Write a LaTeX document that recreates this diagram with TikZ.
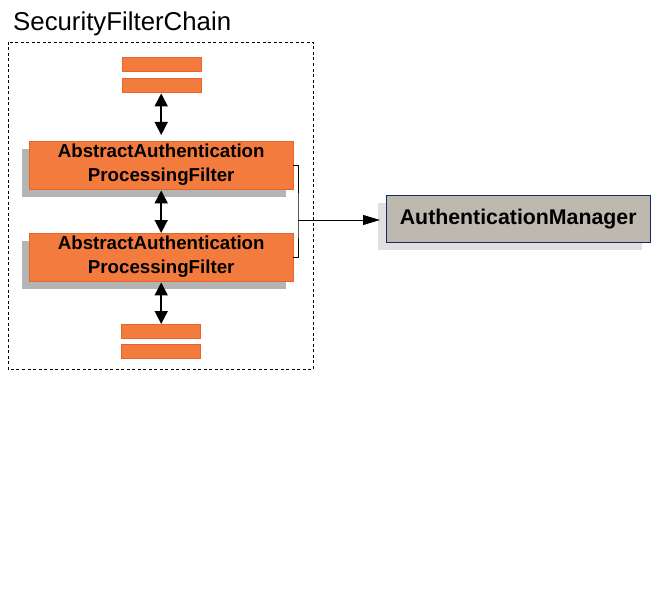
\documentclass[tikz,border=0pt]{standalone}
\usepackage{fontspec}
\setmainfont{Liberation Sans}
\usetikzlibrary{arrows.meta,shadows}

\definecolor{filterorange}{HTML}{F47B3E}
\definecolor{filterline}{HTML}{E5652B}
\definecolor{shadowgray}{HTML}{B4B4B4}
\definecolor{managerfill}{HTML}{BDB9AF}
\definecolor{managerline}{HTML}{1A2470}
\definecolor{managershadow}{HTML}{E0E0E0}

\tikzset{
	filterbar/.style={draw=filterline, fill=filterorange, minimum width=79pt, minimum height=14pt, inner sep=0pt, anchor=north west},
	filterbox/.style={draw=filterline, fill=filterorange, minimum width=264pt, minimum height=48pt, inner sep=0pt, anchor=north west, align=center,
		font=\fontsize{18.7}{24}\selectfont\bfseries,
		general shadow={shadow xshift=-7pt, shadow yshift=-8pt, fill=shadowgray, draw=none, opacity=1}},
	managerbox/.style={draw=managerline, fill=managerfill, minimum width=264pt, minimum height=47pt, inner sep=0pt, anchor=north west,
		font=\fontsize{21.3}{25}\selectfont\bfseries,
		general shadow={shadow xshift=-8pt, shadow yshift=-8pt, fill=managershadow, draw=none, opacity=1}},
	chainarrow/.style={line width=1.6pt, {Triangle[width=13pt,length=13pt]}-{Triangle[width=13pt,length=13pt]}},
}

\begin{document}
\begin{tikzpicture}[x=1pt,y=-1pt]
	\useasboundingbox (0,0) rectangle (670,610);

	% chain frame
	\node[anchor=base west, inner sep=0pt, font=\fontsize{25.8}{30}\selectfont] (title) at (13,31) {SecurityFilterChain};
	\draw[line width=0.9pt, dash pattern=on 3pt off 2.5pt] (8,42) rectangle (313,369);

	% filters
	\node[filterbar] (top1) at (122,57) {};
	\node[filterbar] (top2) at (122,78) {};
	\node[filterbox] (f1) at (29,141) {AbstractAuthentication\\ProcessingFilter};
	\node[filterbox] (f2) at (29,233) {AbstractAuthentication\\ProcessingFilter};
	\node[filterbar] (bot1) at (121,324) {};
	\node[filterbar] (bot2) at (121,344) {};

	\draw[chainarrow, shorten <=1pt, shorten >=6pt] (top2.south -| f1.north) -- (f1.north);
	\draw[chainarrow, shorten <=1pt] (f1.south) -- (f2.north);
	\draw[chainarrow, shorten <=1pt] (f2.south) -- (f2.south |- bot1.north);

	% manager
	\node[managerbox] (am) at (386,195) {AuthenticationManager};

	\coordinate (brk) at (298,220);
	\draw[line width=0.9pt] (f1.east) -| (brk) |- (f2.east);
	\draw[line width=0.9pt, -{Triangle[width=10pt,length=17pt]}, shorten >=6pt] (brk) -- (brk -| am.west);

\end{tikzpicture}
\end{document}
